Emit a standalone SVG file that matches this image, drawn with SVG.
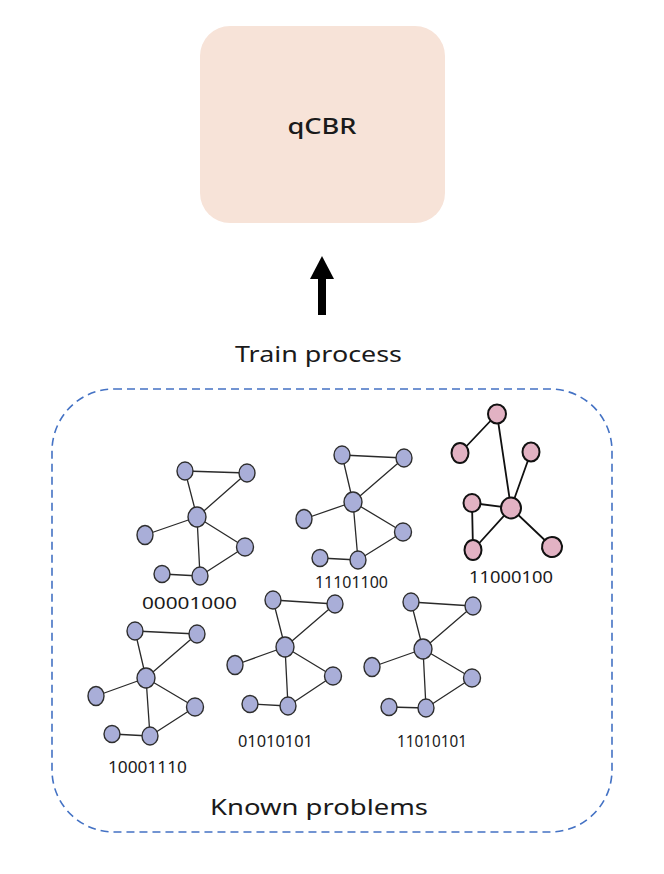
<svg xmlns="http://www.w3.org/2000/svg" width="664" height="874" viewBox="0 0 664 874">
<style>
.t{font-family:"Noto Sans","Liberation Sans",sans-serif;fill:#1a1a1a}
.e{stroke:#2a2a2a;stroke-width:1.3;fill:none}
.n{fill:#A9AED8;stroke:#2e2e2e;stroke-width:1.4}
.pe{stroke:#111;stroke-width:1.8;fill:none}
.p{fill:#E2B2C3;stroke:#111;stroke-width:2}
</style>
<rect width="664" height="874" fill="#fff"/>
<g id="qcbr">
<rect x="200" y="26" width="245" height="197" rx="30" fill="#F7E3D8"/>
<text class="t" x="322" y="134" font-size="22" font-weight="500" text-anchor="middle" textLength="69" lengthAdjust="spacingAndGlyphs">qCBR</text>
</g>
<g id="arrow">
<rect x="318" y="278" width="8" height="37" fill="#000"/>
<polygon points="322,256 310,279 334,279" fill="#000"/>
<text class="t" x="318.5" y="362" font-size="21" text-anchor="middle" textLength="167" lengthAdjust="spacingAndGlyphs">Train process</text>
</g>
<g id="known">
<rect x="52" y="389" width="560" height="443" rx="62" fill="none" stroke="#4472C4" stroke-width="1.6" stroke-dasharray="8 5"/>
<text class="t" x="319" y="815" font-size="21" text-anchor="middle" textLength="218" lengthAdjust="spacingAndGlyphs">Known problems</text>
</g>
<g id="g1">
<g class="edges">
<path class="e" d="M185,471 L247,473 M185,471 L197,517 M247,473 L197,517 M197,517 L145,535 M197,517 L245,547 M197,517 L200,576 M245,547 L200,576 M162,574 L200,576"/>
</g>
<ellipse class="n" cx="185" cy="471" rx="8" ry="9"/>
<ellipse class="n" cx="247" cy="473" rx="8" ry="9"/>
<ellipse class="n" cx="197" cy="517" rx="9" ry="10"/>
<ellipse class="n" cx="145" cy="535" rx="8" ry="9.5"/>
<ellipse class="n" cx="245" cy="547" rx="8.5" ry="9"/>
<ellipse class="n" cx="200" cy="576" rx="8" ry="9"/>
<ellipse class="n" cx="162" cy="574" rx="8" ry="8.5"/>
<text class="t" x="189.5" y="609" font-size="16" text-anchor="middle" textLength="95" lengthAdjust="spacingAndGlyphs">00001000</text>
</g>
<g id="g2">
<g class="edges">
<path class="e" d="M342,455 L404,458 M342,455 L353,502 M404,458 L353,502 M353,502 L304,519 M353,502 L403,532 M353,502 L358,560 M403,532 L358,560 M320,558 L358,560"/>
</g>
<ellipse class="n" cx="342" cy="455" rx="8" ry="9"/>
<ellipse class="n" cx="404" cy="458" rx="8" ry="9"/>
<ellipse class="n" cx="353" cy="502" rx="9" ry="10"/>
<ellipse class="n" cx="304" cy="519" rx="8" ry="9.5"/>
<ellipse class="n" cx="403" cy="532" rx="8.5" ry="9"/>
<ellipse class="n" cx="358" cy="560" rx="8" ry="9"/>
<ellipse class="n" cx="320" cy="558" rx="8" ry="8.5"/>
<text class="t" x="351.5" y="588" font-size="17" text-anchor="middle" textLength="73" lengthAdjust="spacingAndGlyphs">11101100</text>
</g>
<g id="g3">
<g class="edges">
<path class="pe" d="M497,414 L460,453 M497,414 L511,508 M531,452 L511,508 M472,503 L511,508 M472,503 L473,550 M473,550 L511,508 M511,508 L552,547"/>
</g>
<ellipse class="p" cx="497" cy="414" rx="9" ry="9.5"/>
<ellipse class="p" cx="460" cy="453" rx="8.5" ry="10"/>
<ellipse class="p" cx="531" cy="452" rx="8.5" ry="9.5"/>
<ellipse class="p" cx="511" cy="508" rx="10" ry="10.5"/>
<ellipse class="p" cx="472" cy="503" rx="8.5" ry="9"/>
<ellipse class="p" cx="473" cy="550" rx="8.5" ry="10"/>
<ellipse class="p" cx="552" cy="547" rx="10" ry="10" transform="rotate(-30 552 547)"/>
<text class="t" x="511" y="583" font-size="17" text-anchor="middle" textLength="84" lengthAdjust="spacingAndGlyphs">11000100</text>
</g>
<g id="g4">
<g class="edges">
<path class="e" d="M135,631 L197,634 M135,631 L146,678 M197,634 L146,678 M146,678 L96,696 M146,678 L195,707 M146,678 L150,736 M195,707 L150,736 M112,734 L150,736"/>
</g>
<ellipse class="n" cx="135" cy="631" rx="8" ry="9"/>
<ellipse class="n" cx="197" cy="634" rx="8" ry="9"/>
<ellipse class="n" cx="146" cy="678" rx="9" ry="10"/>
<ellipse class="n" cx="96" cy="696" rx="8" ry="9.5"/>
<ellipse class="n" cx="195" cy="707" rx="8.5" ry="9"/>
<ellipse class="n" cx="150" cy="736" rx="8" ry="9"/>
<ellipse class="n" cx="112" cy="734" rx="8" ry="8.5"/>
<text class="t" x="147.5" y="773" font-size="17" text-anchor="middle" textLength="79" lengthAdjust="spacingAndGlyphs">10001110</text>
</g>
<g id="g5">
<g class="edges">
<path class="e" d="M273,600 L335,604 M273,600 L285,647 M335,604 L285,647 M285,647 L235,665 M285,647 L333,676 M285,647 L288,706 M333,676 L288,706 M250,704 L288,706"/>
</g>
<ellipse class="n" cx="273" cy="600" rx="8" ry="9"/>
<ellipse class="n" cx="335" cy="604" rx="8" ry="9"/>
<ellipse class="n" cx="285" cy="647" rx="9" ry="10"/>
<ellipse class="n" cx="235" cy="665" rx="8" ry="9.5"/>
<ellipse class="n" cx="333" cy="676" rx="8.5" ry="9"/>
<ellipse class="n" cx="288" cy="706" rx="8" ry="9"/>
<ellipse class="n" cx="250" cy="704" rx="8" ry="8.5"/>
<text class="t" x="275.5" y="747" font-size="17" text-anchor="middle" textLength="75" lengthAdjust="spacingAndGlyphs">01010101</text>
</g>
<g id="g6">
<g class="edges">
<path class="e" d="M411,602 L473,606 M411,602 L423,649 M473,606 L423,649 M423,649 L372,667 M423,649 L472,678 M423,649 L426,708 M472,678 L426,708 M389,707 L426,708"/>
</g>
<ellipse class="n" cx="411" cy="602" rx="8" ry="9"/>
<ellipse class="n" cx="473" cy="606" rx="8" ry="9"/>
<ellipse class="n" cx="423" cy="649" rx="9" ry="10"/>
<ellipse class="n" cx="372" cy="667" rx="8" ry="9.5"/>
<ellipse class="n" cx="472" cy="678" rx="8.5" ry="9"/>
<ellipse class="n" cx="426" cy="708" rx="8" ry="9"/>
<ellipse class="n" cx="389" cy="707" rx="8" ry="8.5"/>
<text class="t" x="432" y="747" font-size="17" text-anchor="middle" textLength="70" lengthAdjust="spacingAndGlyphs">11010101</text>
</g>
</svg>
